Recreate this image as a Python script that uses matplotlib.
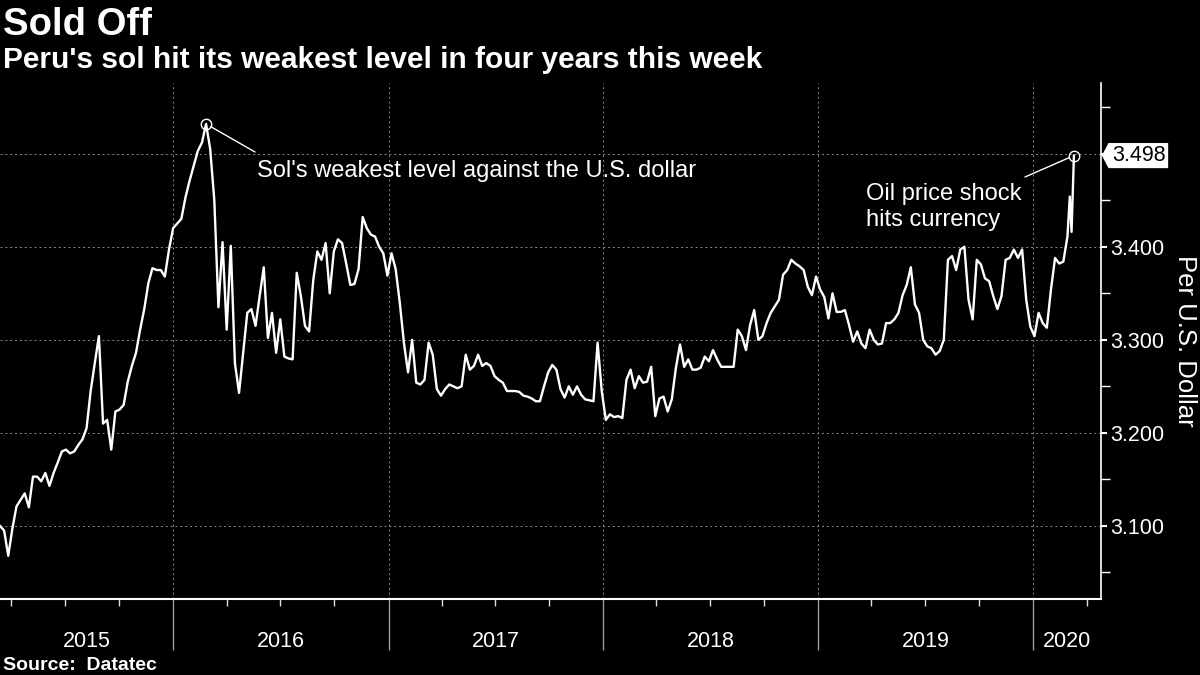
import matplotlib
matplotlib.use("Agg")
import matplotlib.pyplot as plt
import matplotlib.dates as mdates
import matplotlib.transforms as mtransforms
from matplotlib.patches import Polygon
import pandas as pd

plt.rcParams['font.family'] = ['Liberation Sans', 'DejaVu Sans']

# weekly USD/PEN fixings (sol per U.S. dollar), Fridays from 2015-03-13
sol_2015 = [3.100, 3.095, 3.068, 3.097, 3.121, 3.128, 3.135, 3.120, 3.153, 3.153,
            3.148, 3.157, 3.143, 3.157, 3.168, 3.180, 3.182, 3.178, 3.180, 3.187,
            3.193, 3.205, 3.245, 3.275, 3.304, 3.210, 3.214, 3.182, 3.223, 3.225,
            3.230, 3.255, 3.272, 3.286, 3.311, 3.333, 3.361, 3.377, 3.375, 3.375,
            3.368, 3.397]
sol_2016 = [3.420, 3.425, 3.430, 3.453, 3.471, 3.487, 3.503, 3.512, 3.532, 3.505,
            3.450, 3.335, 3.405, 3.311, 3.401, 3.275, 3.243, 3.286, 3.329, 3.333,
            3.315, 3.347, 3.378, 3.302, 3.329, 3.286, 3.322, 3.282, 3.280, 3.279,
            3.372, 3.347, 3.315, 3.309, 3.364, 3.395, 3.386, 3.404, 3.350, 3.395,
            3.408, 3.404, 3.382, 3.359, 3.360, 3.376, 3.432, 3.420, 3.413, 3.411,
            3.400, 3.393, 3.369]
sol_2017 = [3.393, 3.376, 3.340, 3.297, 3.265, 3.300, 3.254, 3.252, 3.257, 3.297,
            3.284, 3.247, 3.240, 3.247, 3.252, 3.250, 3.248, 3.250, 3.284, 3.268,
            3.272, 3.284, 3.272, 3.275, 3.272, 3.261, 3.257, 3.254, 3.245, 3.245,
            3.245, 3.244, 3.240, 3.239, 3.237, 3.234, 3.234, 3.250, 3.265, 3.273,
            3.268, 3.247, 3.238, 3.250, 3.241, 3.250, 3.241, 3.236, 3.235, 3.234,
            3.297, 3.245]
sol_2018 = [3.214, 3.220, 3.217, 3.218, 3.216, 3.257, 3.268, 3.248, 3.261, 3.254,
            3.255, 3.271, 3.218, 3.237, 3.239, 3.223, 3.236, 3.270, 3.295, 3.271,
            3.279, 3.268, 3.268, 3.270, 3.282, 3.277, 3.289, 3.279, 3.271, 3.271,
            3.271, 3.271, 3.311, 3.304, 3.289, 3.316, 3.332, 3.300, 3.304, 3.318,
            3.329, 3.336, 3.343, 3.370, 3.375, 3.386, 3.382, 3.379, 3.375, 3.357,
            3.348, 3.368]
sol_2019 = [3.354, 3.346, 3.323, 3.350, 3.330, 3.330, 3.332, 3.316, 3.298, 3.309,
            3.296, 3.291, 3.311, 3.300, 3.295, 3.296, 3.318, 3.318, 3.322, 3.329,
            3.348, 3.359, 3.378, 3.338, 3.329, 3.300, 3.293, 3.291, 3.284, 3.288,
            3.300, 3.386, 3.390, 3.375, 3.397, 3.400, 3.343, 3.322, 3.386, 3.381,
            3.366, 3.363, 3.347, 3.333, 3.347, 3.386, 3.388, 3.397, 3.388, 3.397,
            3.343, 3.314]
sol_2020 = [3.304, 3.329, 3.318, 3.313, 3.354, 3.388, 3.382, 3.384, 3.411]
# last days before the oil price shock peak
march_2020_dates = ['2020-03-03', '2020-03-06', '2020-03-10']
march_2020_values = [3.454, 3.416, 3.498]

years = [2015, 2016, 2017, 2018, 2019, 2020]
y_major = [3.1, 3.2, 3.3, 3.4, 3.5]
y_labels = ['3.100', '3.200', '3.300', '3.400', '']
y_minor = [3.05, 3.15, 3.25, 3.35, 3.45, 3.55]

weekly = sol_2015 + sol_2016 + sol_2017 + sol_2018 + sol_2019 + sol_2020
dates = pd.date_range('2015-03-13', periods=len(weekly), freq='7D')
dates = dates.append(pd.to_datetime(march_2020_dates))
values = weekly + march_2020_values
s = pd.Series(values, index=dates)

W, H = 1200, 675
fig = plt.figure(figsize=(12, 6.75), dpi=100, facecolor='black')
ax = fig.add_axes([0, 1 - 599 / H, 1101 / W, (599 - 83) / H])
ax.set_facecolor('black')

ax.plot(s.index, s.values, color='white', lw=1.7, solid_joinstyle='round')

x0, x1 = pd.Timestamp('2015-03-13'), pd.Timestamp('2020-04-25')
ax.set_xlim(x0, x1)
ax.set_ylim(3.0215, 3.576)

# y axis on the right
for side in ['top', 'left']:
    ax.spines[side].set_visible(False)
ax.spines['right'].set_color('white')
ax.spines['right'].set_linewidth(1.2)
ax.spines['bottom'].set_color('white')
ax.spines['bottom'].set_linewidth(1.5)
ax.yaxis.tick_right()
ax.set_yticks(y_major)
ax.set_yticklabels(y_labels)
ax.set_yticks(y_minor, minor=True)
ax.tick_params(axis='y', which='major', colors='white', length=4, width=1.5,
               pad=3, labelsize=15.5)
ax.tick_params(axis='y', which='minor', colors='white', length=6.5, width=1)

# x axis: year separators, quarter ticks
ax.xaxis.set_major_locator(mdates.YearLocator())
ax.xaxis.set_major_formatter(plt.NullFormatter())
ax.xaxis.set_minor_locator(mdates.MonthLocator(bymonth=[4, 7, 10]))
ax.xaxis.set_minor_formatter(plt.NullFormatter())
ax.tick_params(axis='x', which='major', length=37, width=1, color='#9a9a9a')
ax.tick_params(axis='x', which='minor', length=5, width=1, color='#dddddd')

ax.grid(True, which='major', color='#8a8a8a', linestyle=(0, (2, 3)), lw=0.7)

xt = mtransforms.blended_transform_factory(ax.transData, fig.transFigure)
for yr in years:
    a = max(pd.Timestamp(f'{yr}-01-01'), x0)
    b = min(pd.Timestamp(f'{yr + 1}-01-01'), x1)
    ax.text(a + (b - a) / 2, 1 - 647 / H, str(yr), transform=xt, color='white',
            fontsize=15.5, ha='center', va='baseline')

# titles and source
fig.text(3 / W, 1 - 35 / H, 'Sold Off', color='white', fontsize=27.5,
         fontweight='bold', ha='left', va='baseline')
fig.text(3 / W, 1 - 68 / H, "Peru's sol hit its weakest level in four years this week",
         color='white', fontsize=21.5, fontweight='bold', ha='left', va='baseline')
fig.text(3 / W, 1 - 670 / H, 'Source:  Datatec', color='white', fontsize=14,
         fontweight='bold', ha='left', va='baseline')
fig.text(1185 / W, 1 - 341 / H, 'Per U.S. Dollar', color='white', fontsize=18.5,
         rotation=270, ha='center', va='center')

# annotations
peak_date = s.idxmax()
last_date = s.index[-1]
for d, tx, ty in [(peak_date, 255, 152), (last_date, 1025, 177)]:
    v = s[d]
    ax.plot([d], [v], marker='o', ms=7.5, mfc='none', mec='white', mew=1,
            clip_on=False)
    ax.annotate('', xy=(d, v), xytext=(tx, H - ty), textcoords='figure pixels',
                arrowprops=dict(arrowstyle='-', color='white', lw=1,
                                shrinkA=0, shrinkB=3.8))

fig.text(257 / W, 1 - 177 / H, "Sol's weakest level against the U.S. dollar",
         color='white', fontsize=17, ha='left', va='baseline')
fig.text(866 / W, 1 - 200 / H, 'Oil price shock', color='white',
         fontsize=17, ha='left', va='baseline')
fig.text(866 / W, 1 - 226 / H, 'hits currency', color='white',
         fontsize=17, ha='left', va='baseline')

# last value tag on the axis
last_val = s.iloc[-1]
yt = mtransforms.blended_transform_factory(ax.transAxes, ax.transData)
hh = 0.0135
tag = Polygon([(1.0008, last_val), (1.0068, last_val + hh), (1.061, last_val + hh),
               (1.061, last_val - hh), (1.0068, last_val - hh)], closed=True,
              transform=yt, facecolor='white', edgecolor='none', clip_on=False)
ax.add_patch(tag)
ax.text(1.0345, last_val, f'{last_val:.3f}', transform=yt, color='black',
        fontsize=15.5, ha='center', va='center', clip_on=False)

fig.savefig('out.png', dpi=100, facecolor='black')
